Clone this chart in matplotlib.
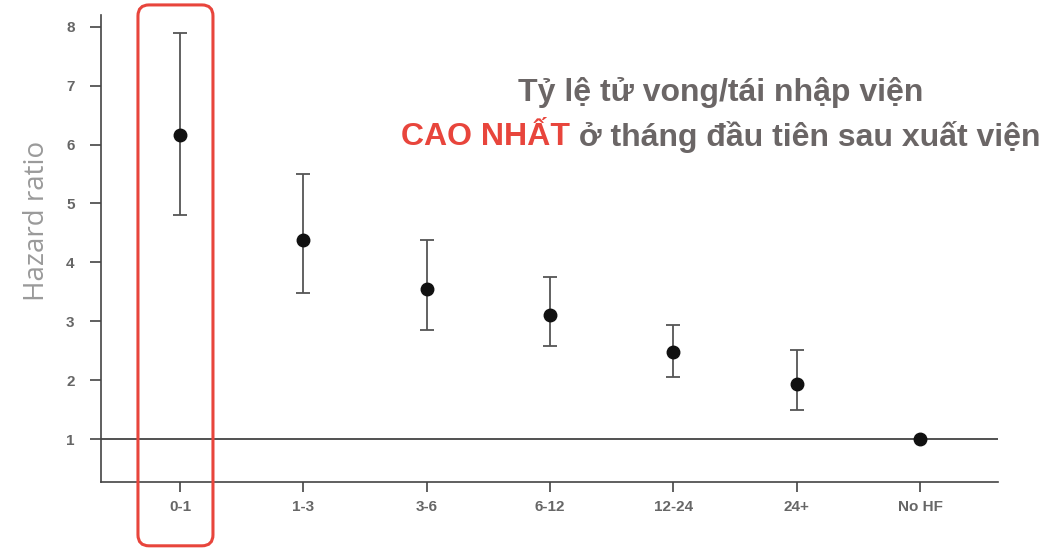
import matplotlib
matplotlib.use("Agg")
import matplotlib.pyplot as plt
from matplotlib.patches import FancyBboxPatch
from matplotlib.transforms import IdentityTransform

# Dữ liệu: hazard ratio theo thời gian sau xuất viện (tháng)
categories = ["0-1", "1-3", "3-6", "6-12", "12-24", "24+", "No HF"]
hr = [6.16, 4.38, 3.55, 3.11, 2.48, 1.93, 1.0]
ci_low = [4.81, 3.48, 2.85, 2.58, 2.05, 1.49, 1.0]
ci_high = [7.90, 5.50, 4.38, 3.75, 2.94, 2.52, 1.0]
yticks = [1, 2, 3, 4, 5, 6, 7, 8]

GRAY_TXT = "#6b6666"
RED = "#e8453c"
FS_NOTE = 23

fig = plt.figure(figsize=(10.61, 5.48), dpi=100)
ax = fig.add_axes([0.0952, 0.1204, 0.8454, 0.8522])

x = list(range(len(categories)))
err_lo = [h - l for h, l in zip(hr, ci_low)]
err_hi = [u - h for h, u in zip(hr, ci_high)]
n_err = len(categories) - 1  # "No HF" không có khoảng tin cậy
ax.errorbar(x[:n_err], hr[:n_err], yerr=[err_lo[:n_err], err_hi[:n_err]],
            fmt="none", ecolor="#555555", elinewidth=1.3, capsize=5, capthick=1.3, zorder=2)
ax.plot(x, hr, "o", color="#111111", markersize=9, zorder=3)
ax.axhline(1, color="#333333", linewidth=1.2, zorder=1)

ax.set_xlim(-0.64, 6.63)
ax.set_ylim(0.27, 8.2)
ax.set_xticks(x)
ax.set_xticklabels(categories)
ax.set_yticks(yticks)

for s in ["top", "right"]:
    ax.spines[s].set_visible(False)
for s in ["left", "bottom"]:
    ax.spines[s].set_color("#444444")
    ax.spines[s].set_linewidth(1.2)

ax.tick_params(axis="y", length=8, width=1.2, color="#444444", pad=11,
               labelsize=11, labelcolor="#666666")
ax.tick_params(axis="x", length=7, width=1.2, color="#444444", pad=6,
               labelsize=11, labelcolor="#666666")
for lab in ax.get_xticklabels() + ax.get_yticklabels():
    lab.set_fontweight("bold")
    lab.set_family(["Liberation Sans Narrow", "Liberation Sans", "DejaVu Sans"])

ax.set_ylabel("Hazard ratio", fontsize=20, color="#9a9a9a",
              family=["Open Sans", "DejaVu Sans"])
ax.yaxis.set_label_coords(-0.056, 0.56)

# Chú thích
fig.text(0.679, 0.832, "Tỷ lệ tử vong/tái nhập viện", ha="center", va="center",
         fontsize=FS_NOTE, fontweight="bold", color=GRAY_TXT, family="Liberation Sans")

fig.canvas.draw()
r = fig.canvas.get_renderer()
p1 = fig.text(0, 0, "CAO NHẤT", fontsize=FS_NOTE, fontweight="bold", color=RED,
              family="Liberation Sans", va="center")
p2 = fig.text(0, 0, " ở tháng đầu tiên sau xuất viện", fontsize=FS_NOTE, fontweight="bold",
              color=GRAY_TXT, family="Liberation Sans", va="center")
w1 = p1.get_window_extent(r).width
w2 = p2.get_window_extent(r).width
W = fig.get_figwidth() * fig.dpi
cx = 0.679 * W
y2 = 0.75
p1.set_position(((cx - (w1 + w2) / 2) / W, y2))
p2.set_position(((cx - (w1 + w2) / 2 + w1) / W, y2))

# Khung đỏ quanh cột "0-1"
H = fig.get_figheight() * fig.dpi
xc = ax.transData.transform((x[0], 1))[0]
x0, x1 = xc - 42, xc + 33
box = FancyBboxPatch((x0, 0.004 * H), x1 - x0, 0.987 * H,
                     boxstyle="round,pad=0,rounding_size=11",
                     transform=IdentityTransform(), fill=False,
                     edgecolor=RED, linewidth=2.2, zorder=5)
fig.patches.append(box)

fig.savefig("out.png", dpi=100)
